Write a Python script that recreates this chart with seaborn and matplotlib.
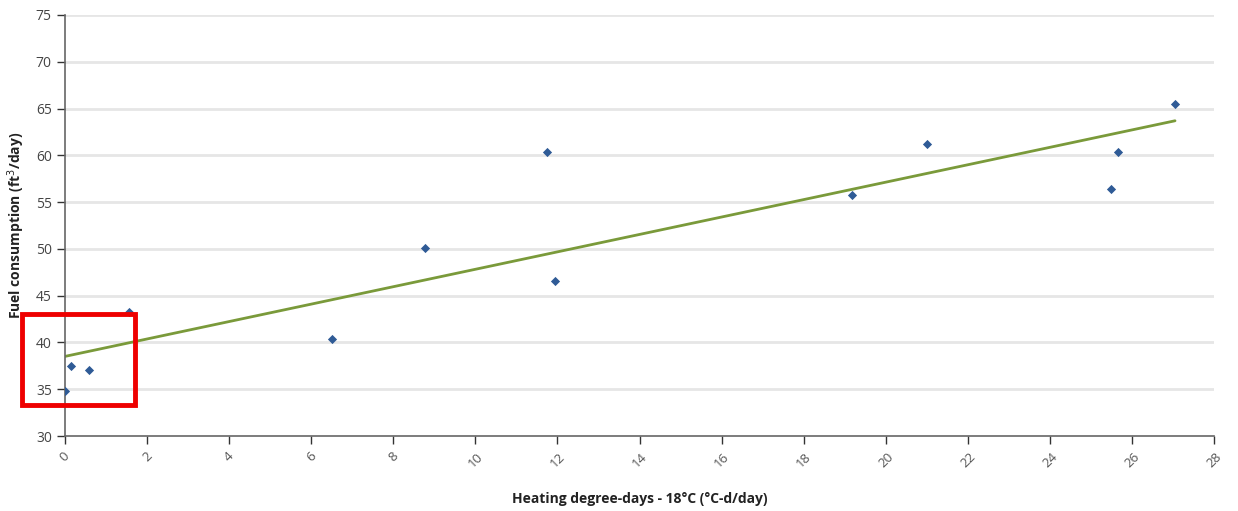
import matplotlib
matplotlib.use("Agg")
import matplotlib.pyplot as plt
import matplotlib.patches as mpatches
import seaborn as sns
import pandas as pd

hdd = [0.0, 0.15, 0.58, 1.56, 6.5, 8.77, 11.74, 11.94, 19.18, 21.0, 25.49, 25.66, 27.05]
fuel = [34.8, 37.5, 37.06, 43.26, 40.37, 50.1, 60.36, 46.57, 55.76, 61.2, 56.4, 60.36, 65.49]
x_ticks = list(range(0, 29, 2))
y_ticks = list(range(30, 76, 5))

df = pd.DataFrame({"hdd": hdd, "fuel": fuel})

sns.set_theme(style="white")
plt.rcParams["font.family"] = ["Open Sans", "DejaVu Sans"]

fig = plt.figure(figsize=(12.38, 5.11), dpi=100)
ax = fig.add_axes([65 / 1238, 1 - 436 / 511, (1214 - 65) / 1238, (436 - 15) / 511])

for yv in y_ticks[1:]:
    ax.axhline(yv, color="#e6e6e6", lw=2, zorder=0)

sns.regplot(data=df, x="hdd", y="fuel", ax=ax, ci=None, truncate=True, marker="D",
            scatter_kws=dict(s=22, color="#2f5b96", linewidths=0, alpha=1, zorder=3),
            line_kws=dict(color="#7a9a3a", lw=2, zorder=2))

ax.set_xlim(0, 28)
ax.set_ylim(30, 75)
ax.set_xticks(x_ticks)
ax.set_yticks(y_ticks)
ax.set_xticklabels([str(t) for t in x_ticks], rotation=45, ha="center", fontsize=9.5, color="#555555")
ax.set_yticklabels([str(t) for t in y_ticks], fontsize=10, color="#444444")
ax.tick_params(axis="both", direction="out", length=6, width=1, color="#333333", bottom=True, left=True)
ax.tick_params(axis="x", pad=4)

for s in ["top", "right"]:
    ax.spines[s].set_visible(False)
for s in ["left", "bottom"]:
    ax.spines[s].set_color("#666666")
    ax.spines[s].set_linewidth(1.2)

ax.set_xlabel("Heating degree-days - 18°C (°C-d/day)", fontsize=10, fontweight="bold", color="#222222", labelpad=16)
ax.set_ylabel("Fuel consumption (ft$^3$/day)", fontsize=10, fontweight="bold", color="#222222", labelpad=6)

rect = mpatches.Rectangle((-1.05, 33.32), 2.76, 9.72, fill=False, edgecolor="#ee0000", lw=3.5, clip_on=False, zorder=5)
ax.add_patch(rect)

fig.savefig("out.png", dpi=100)
